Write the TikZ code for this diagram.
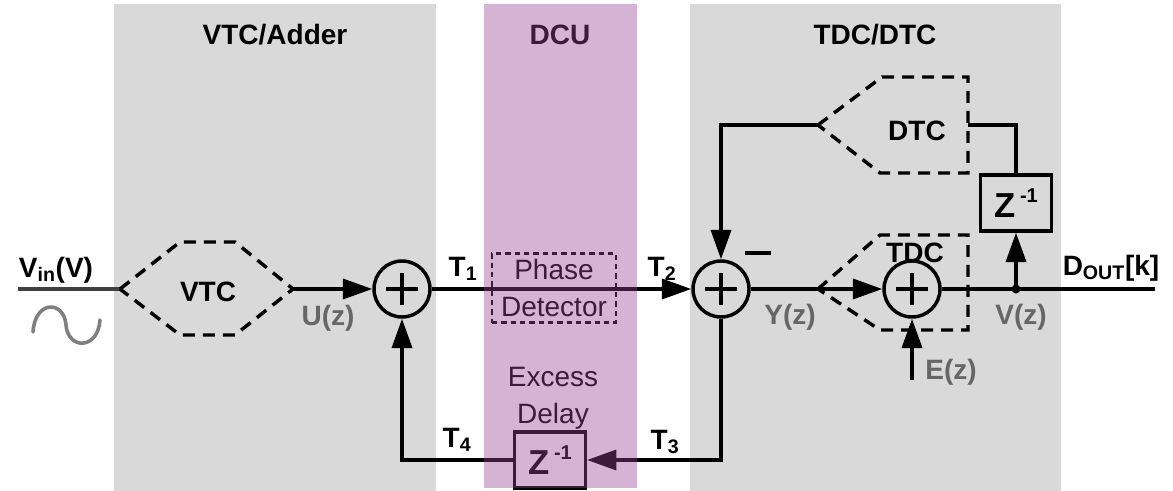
\documentclass[tikz,border=0pt]{standalone}
\usepackage{fontspec}
\setmainfont{Liberation Sans}
\usetikzlibrary{arrows.meta,positioning}
\definecolor{panel}{HTML}{D9D9D9}
\definecolor{dcu}{HTML}{964196}
\definecolor{ink}{HTML}{000000}
\definecolor{siggray}{HTML}{666666}
\definecolor{srcgray}{HTML}{808080}
\definecolor{wiregray}{HTML}{404040}
\tikzset{
  >={Triangle[length=22pt,width=15pt]},
  every node/.style={font=\fontsize{21}{25}\selectfont\bfseries,text=ink},
  title/.style={font=\fontsize{21}{25}\selectfont\bfseries},
  wire/.style={draw=ink,line width=2.6pt},
  sigarr/.style={wire,->},
  inwire/.style={draw=wiregray,line width=2.7pt},
  srcwave/.style={draw=srcgray,line width=2.7pt,line cap=round},
  blockdash/.style={draw=ink,line width=2.6pt,dash pattern=on 9pt off 6pt},
  sumnode/.style={circle,draw=ink,line width=2.6pt,minimum size=42pt,inner sep=0pt,
    path picture={
      \draw[line width=2.6pt] ([xshift=-12pt]path picture bounding box.center) -- ([xshift=12pt]path picture bounding box.center);
      \draw[line width=2.6pt] ([yshift=-12pt]path picture bounding box.center) -- ([yshift=12pt]path picture bounding box.center);
    }},
  pdbox/.style={draw=ink,line width=2.2pt,dash pattern=on 4pt off 3pt,minimum width=93pt,minimum height=52pt,
    align=center,font=\fontsize{21}{28}\selectfont\mdseries},
  dlybox/.style={draw=ink,line width=2.6pt,fill=white,minimum width=53pt,minimum height=42pt,inner sep=0pt},
  plainlbl/.style={align=center,font=\fontsize{21}{28}\selectfont\mdseries},
  siglbl/.style={text=siggray},
  tlbl/.style={inner sep=0pt},
}
\newcommand{\zinv}{{\fontsize{26}{26}\selectfont Z}\,\raisebox{0.55em}{\fontsize{15}{15}\selectfont -1}}

\begin{document}
\begin{tikzpicture}[x=0.75pt,y=-0.75pt]
\useasboundingbox (0,0) rectangle (1173,491);

\fill[panel] (114,4) rectangle (436,491);
\fill[panel] (690,4) rectangle (1061,491);

\node[title] (ttlvtc) at (275,35) {VTC/Adder};
\node[title] (ttldcu) at (560,35) {DCU};
\node[title] (ttltdc) at (875,35) {TDC/DTC};

\coordinate (vin) at (18,289);
\coordinate (vtcin) at (120,289);
\coordinate (vtcout) at (293,289);
\draw[inwire] (vin) -- (vtcin);
\node (vinlbl) at (56,270) {V\textsubscript{in}(V)};
\draw[srcwave] (33,332) .. controls (35,300) and (64,300) .. (66,325) .. controls (68,350) and (98,350) .. (100,320);
\draw[blockdash] (vtcin) -- (180,242) -- (235,242) -- (vtcout) -- (235,335) -- (180,335) -- cycle;
\node (vtclbl) at (208,292) {VTC};

\node[sumnode] (sum1) at (402,289) {};
\draw[sigarr] (vtcout) -- (sum1);
\node[siglbl] (ulbl) at (328,318) {U(z)};

\node[pdbox] (pd) at (554,288) {Phase\\Detector};
\node[sumnode] (sum2) at (721,289) {};
\draw[sigarr] (sum1) -- (sum2);
\node[tlbl] (t1) at (463,269) {T\textsubscript{1}};
\node[tlbl] (t2) at (662,269) {T\textsubscript{2}};

\node[dlybox] (dly) at (550,460) {\zinv};
\node[plainlbl] (dlylbl) at (553,398) {Excess\\Delay};
\draw[sigarr] (sum2.south) |- (dly.east);
\draw[sigarr] (dly.west) -| (sum1.south);
\node[tlbl] (t3) at (665,442) {T\textsubscript{3}};
\node[tlbl] (t4) at (457,440) {T\textsubscript{4}};

\draw[wire] (745,253) -- (771,253);

\coordinate (dtctip) at (818,125);
\coordinate (dtcout) at (968,125);
\coordinate (tdctip) at (818,289);
\draw[blockdash] (dtctip) -- (882,77) -- (968,77) -- (968,173) -- (880,173) -- cycle;
\node (dtclbl) at (917,131) {DTC};
\draw[blockdash] (tdctip) -- (880,235) -- (968,235) -- (968,330) -- (880,330) -- cycle;
\node (tdclbl) at (915,253) {TDC};

\node[sumnode] (sum3) at (912,289) {};
\draw[sigarr] (sum2) -- (sum3);
\draw[sigarr] (dtctip) -| (sum2.north);
\node[siglbl] (ylbl) at (790,317) {Y(z)};

\node[dlybox,fill=none] (zdtc) at (1016,203) {\zinv};
\draw[wire] (zdtc.north) |- (dtcout);
\coordinate (vout) at (1016,289);
\coordinate (dout) at (1155,289);
\draw[wire] (sum3) -- (dout);
\fill[ink] (vout) circle (4.5);
\draw[sigarr] (vout) -- (zdtc.south);
\node[siglbl] (vlbl) at (1021,317) {V(z)};
\node (doutlbl) at (1111,268) {D\textsubscript{OUT}[k]};

\coordinate (ein) at (912,380);
\draw[sigarr] (ein) -- (sum3.south);
\node[siglbl] (elbl) at (951,372) {E(z)};

\fill[dcu,opacity=0.4] (484,4) rectangle (637,488);

\end{tikzpicture}
\end{document}
